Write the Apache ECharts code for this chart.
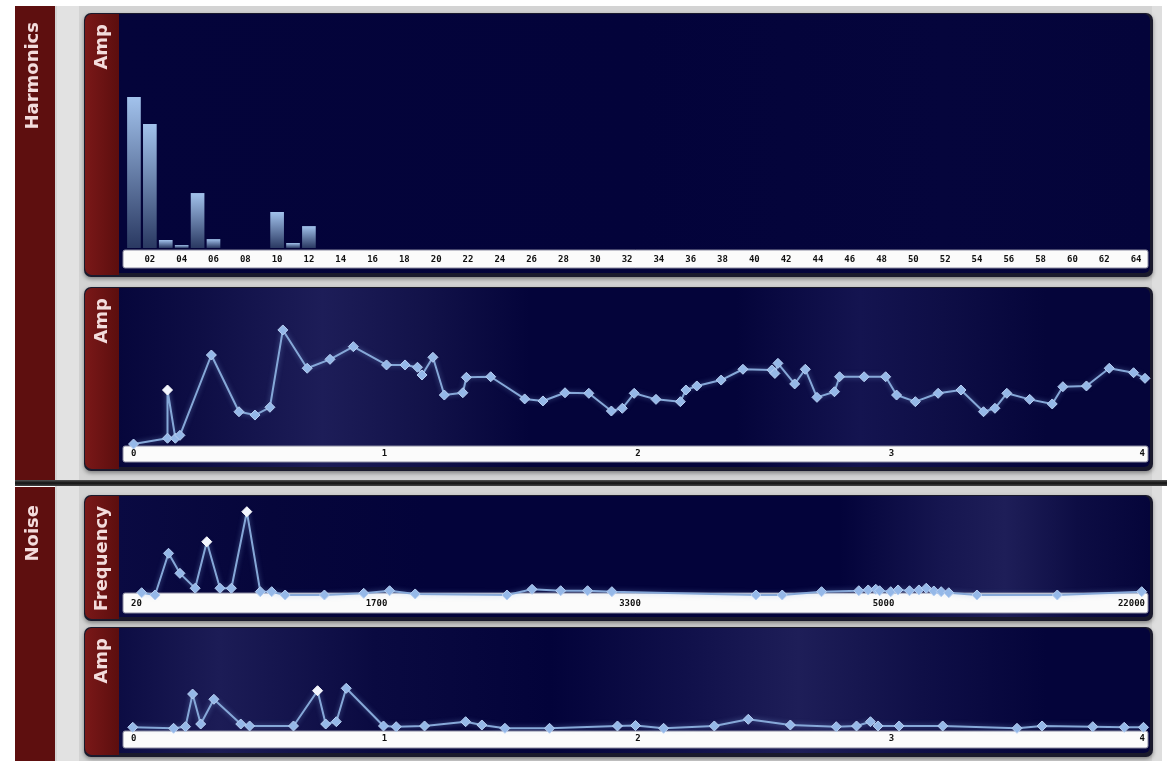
<!DOCTYPE html>
<html lang="en">
<head>
<meta charset="UTF-8">
<title>Harmonics / Noise</title>
<script src="https://cdn.jsdelivr.net/npm/echarts@6.0.0/dist/echarts.min.js"></script>
<style>
    html, body { margin: 0; padding: 0; background: #ffffff; }
    #main { width: 1167px; height: 761px; }
</style>
</head>
<body>
<div id="main"></div>
<script>
// harmonic number -> amplitude (0..100)
var harmonicLabels = ['01','02','03','04','05','06','07','08','09','10','11','12','13','14','15','16',
    '17','18','19','20','21','22','23','24','25','26','27','28','29','30','31','32',
    '33','34','35','36','37','38','39','40','41','42','43','44','45','46','47','48',
    '49','50','51','52','53','54','55','56','57','58','59','60','61','62','63','64'];
var harmonicAmp = [66.2, 54.4, 3.5, 1.3, 24.1, 3.9, 0, 0, 0, 15.8, 2.2, 9.6, 0, 0, 0, 0,
    0, 0, 0, 0, 0, 0, 0, 0, 0, 0, 0, 0, 0, 0, 0, 0,
    0, 0, 0, 0, 0, 0, 0, 0, 0, 0, 0, 0, 0, 0, 0, 0,
    0, 0, 0, 0, 0, 0, 0, 0, 0, 0, 0, 0, 0, 0, 0, 0];

// harmonics amp envelope
var ampTime = [0.01, 0.144, 0.144, 0.175, 0.193, 0.317, 0.426, 0.489, 0.548, 0.599, 0.695, 0.785, 0.877,
    1.008, 1.081, 1.130, 1.148, 1.191, 1.236, 1.309, 1.323, 1.419, 1.553, 1.625, 1.712, 1.806, 1.895, 1.938, 1.985,
    2.071, 2.167, 2.189, 2.232, 2.328, 2.414, 2.528, 2.540, 2.552, 2.618, 2.660, 2.706, 2.775, 2.795, 2.892, 2.977,
    3.020, 3.094, 3.184, 3.274, 3.363, 3.408, 3.455, 3.545, 3.634, 3.676, 3.769, 3.859, 3.955, 4.0];
var ampLevel = [0, 4, 37.5, 4, 6, 61.8, 22.4, 20.1, 25.5, 79.2, 52.6, 58.8, 67.6,
    54.9, 54.9, 53.3, 47.9, 60.2, 34.0, 35.6, 46.3, 46.7, 31.3, 29.9, 35.6, 35.2, 22.9, 24.8, 35.2,
    31.0, 29.4, 37.5, 40.3, 44.4, 51.9, 51.4, 49, 56.0, 41.7, 51.9, 32.4, 36.3, 46.7, 46.7, 46.7,
    34.0, 29.4, 35.2, 37.5, 22.4, 24.8, 35.2, 31.0, 27.8, 39.8, 40.3, 52.6, 49.5, 45.6];
var ampSelected = [2];
var timeTicks = ['0', '1', '2', '3', '4'];

// noise frequency curve
var noiseBand = [0.042, 0.095, 0.148, 0.193, 0.253, 0.299, 0.351, 0.396, 0.457, 0.510, 0.555, 0.608, 0.763,
    0.918, 1.020, 1.121, 1.483, 1.582, 1.695, 1.801, 1.897, 2.465, 2.569, 2.724, 2.871, 2.908, 2.938, 2.953,
    2.997, 3.026, 3.071, 3.108, 3.137, 3.167, 3.196, 3.226, 3.337, 3.654, 3.987];
var noiseFreq = [2.4, 0, 43.9, 22.8, 7.1, 56.1, 7.1, 7.1, 87.7, 3.5, 3.5, 0, 0,
    1.8, 4.5, 1.1, 0, 6.0, 4.5, 4.5, 3.5, 0, 0, 3.5, 4.5, 5.3, 6.0, 4.5,
    3.5, 5.3, 4.5, 5.3, 7.1, 4.2, 3.5, 2.4, 0, 0, 3.5];
var freqSelected = [5, 8];
var freqTicks = ['20', '1700', '3300', '5000', '22000'];

// noise amp envelope
var noiseTime = [0.007, 0.168, 0.215, 0.243, 0.275, 0.327, 0.433, 0.468, 0.641, 0.736, 0.768, 0.810, 0.849,
    0.996, 1.046, 1.158, 1.320, 1.384, 1.475, 1.651, 1.919, 1.990, 2.101, 2.301, 2.435, 2.601, 2.782, 2.862,
    2.917, 2.947, 3.030, 3.202, 3.495, 3.594, 3.794, 3.918, 3.994];
var noiseLevel = [1.9, 0.8, 2.6, 39.3, 5.6, 33.4, 5.6, 3.4, 3.4, 43.0, 5.6, 8.2, 45.7,
    3.4, 2.6, 3.4, 8.2, 4.5, 0.8, 0.8, 3.4, 3.9, 0.8, 3.4, 10.9, 4.5, 2.6, 3.4,
    8.2, 3.4, 3.4, 3.4, 0.8, 3.4, 2.6, 1.9, 1.9];
var noiseSelected = [9];

var chart = echarts.init(document.getElementById('main'));

var labelFont = '"DejaVu Sans", sans-serif';
var tickFont = '"DejaVu Sans Mono", monospace';

function hGrad(stops) {
    return new echarts.graphic.LinearGradient(0, 0, 1, 0, stops.map(function (s) {
        return { offset: s[0], color: s[1] };
    }));
}

function sideText(x, y, text) {
    return {
        type: 'text', x: x, y: y, rotation: Math.PI / 2, z: 1,
        style: {
            text: text, fill: '#f3dcdc', font: 'bold 18px ' + labelFont,
            align: 'right', verticalAlign: 'middle', textAlign: 'right', textVerticalAlign: 'middle'
        }
    };
}

// one instrument panel: dark frame, red label strip, navy plot area, white axis band
function panel(y0, y1, bandY0, bandY1, label, glow) {
    return [
        { type: 'rect', z: 0, shape: { x: 84, y: y0 - 1, width: 1069, height: y1 - y0 + 2, r: 7 },
          style: { fill: '#1a1a2c', shadowBlur: 4, shadowColor: 'rgba(0,0,0,0.4)', shadowOffsetY: 2 } },
        { type: 'rect', z: 0, shape: { x: 116, y: y0, width: 1034, height: y1 - y0 - 3, r: [0, 6, 6, 0] },
          style: { fill: hGrad(glow) } },
        { type: 'rect', z: 0, shape: { x: 85, y: y0, width: 34, height: y1 - y0 - 1, r: [7, 0, 0, 7] },
          style: { fill: hGrad([[0, '#7a1818'], [1, '#5c0e0e']]) } },
        { type: 'rect', z: 0, shape: { x: 123, y: bandY0, width: 1025, height: bandY1 - bandY0, r: 2 },
          style: { fill: '#fbfbfb', stroke: '#8a8aa0', lineWidth: 1 } },
        sideText(102, y0 + 10, label)
    ];
}

var graphics = [
    { type: 'rect', z: 0, shape: { x: 55, y: 6, width: 1107, height: 755 }, style: { fill: '#d3d3d3' } },
    { type: 'rect', z: 0, shape: { x: 57, y: 6, width: 22, height: 755 }, style: { fill: '#e2e2e2' } },
    { type: 'rect', z: 0, shape: { x: 1152, y: 6, width: 10, height: 755 }, style: { fill: '#dedede' } },
    { type: 'rect', z: 0, shape: { x: 15, y: 6, width: 40, height: 474 }, style: { fill: '#5e0f0f' } },
    { type: 'rect', z: 0, shape: { x: 15, y: 487, width: 40, height: 274 }, style: { fill: '#5e0f0f' } },
    { type: 'rect', z: 0, shape: { x: 15, y: 480, width: 1152, height: 6 },
      style: { fill: new echarts.graphic.LinearGradient(0, 0, 0, 1, [
          { offset: 0, color: '#555555' }, { offset: 0.5, color: '#111111' }, { offset: 1, color: '#444444' }]) } },
    sideText(33, 22, 'Harmonics'),
    sideText(33, 505, 'Noise')
];
graphics = graphics
    .concat(panel(14, 276, 250, 268, 'Amp',
        [[0, '#04043a'], [0.5, '#03033a'], [0.8, '#05053c'], [1, '#04043a']]))
    .concat(panel(288, 470, 446, 462, 'Amp',
        [[0, '#06063b'], [0.08, '#0e0e45'], [0.2, '#1d1d58'], [0.3, '#121249'], [0.4, '#04043a'],
         [0.6, '#04043a'], [0.72, '#141450'], [0.8, '#0e0e46'], [0.9, '#05053a'], [1, '#05053a']]))
    .concat(panel(496, 620, 593, 613, 'Frequency',
        [[0, '#0a0a42'], [0.15, '#06063b'], [0.3, '#03033a'], [0.7, '#03033a'], [0.8, '#161650'],
         [0.86, '#1e1e58'], [0.93, '#0d0d44'], [1, '#05053a']]))
    .concat(panel(628, 756, 731, 748, 'Amp',
        [[0, '#0c0c43'], [0.1, '#1c1c56'], [0.25, '#0a0a41'], [0.42, '#03033a'], [0.55, '#10104a'],
         [0.66, '#1e1e58'], [0.78, '#0f0f47'], [0.9, '#04043a'], [1, '#04043a']]));

function pts(xs, ys, selected) {
    return xs.map(function (x, i) {
        var item = { value: [x, ys[i]] };
        if (selected.indexOf(i) >= 0) {
            item.itemStyle = { color: '#f2f6ff', borderColor: '#ffffff' };
        }
        return item;
    });
}

function timeAxis(gridIndex, ticks, margin) {
    return {
        type: 'value', gridIndex: gridIndex, min: 0, max: 4, interval: 1, z: 10,
        axisLine: { show: false }, axisTick: { show: false }, splitLine: { show: false },
        axisLabel: {
            margin: margin, color: '#111111', fontFamily: tickFont, fontWeight: 'bold', fontSize: 9,
            alignMinLabel: 'left', alignMaxLabel: 'right',
            formatter: function (v) {
                var i = Math.round(v);
                // inner labels sit a little left of their tick
                return (i > 0 && i < 4) ? '{m|' + ticks[i] + '}' : ticks[i];
            },
            rich: {
                m: {
                    color: '#111111', fontFamily: tickFont, fontWeight: 'bold', fontSize: 9,
                    padding: [0, ticks[1].length > 1 ? 16 : 0, 0, 0]
                }
            }
        }
    };
}

function valAxis(gridIndex) {
    return { type: 'value', gridIndex: gridIndex, min: 0, max: 100, show: false };
}

function envelope(idx, data) {
    return {
        type: 'line', xAxisIndex: idx, yAxisIndex: idx, data: data,
        symbol: 'diamond', symbolSize: 10, clip: false,
        lineStyle: { color: '#86a8d8', width: 2, shadowBlur: 5, shadowColor: 'rgba(140,180,235,0.5)' },
        itemStyle: { color: '#95b8e8', borderColor: '#b8d0f2', borderWidth: 1 }
    };
}

chart.setOption({
    animation: false,
    graphic: graphics,
    grid: [
        { left: 126, right: 23, top: 20, bottom: 513 },
        { left: 131, right: 22, top: 300, bottom: 317 },
        { left: 131, right: 22, top: 500, bottom: 166 },
        { left: 131, right: 22, top: 640, bottom: 32 }
    ],
    xAxis: [
        {
            type: 'category', gridIndex: 0, data: harmonicLabels, z: 10,
            axisLine: { show: false }, axisTick: { show: false },
            axisLabel: {
                margin: 7, color: '#111111', fontFamily: tickFont, fontWeight: 'bold', fontSize: 9,
                interval: function (index) { return index % 2 === 1; }
            }
        },
        timeAxis(1, timeTicks, 5),
        timeAxis(2, freqTicks, 4),
        timeAxis(3, timeTicks, 5)
    ],
    yAxis: [valAxis(0), valAxis(1), valAxis(2), valAxis(3)],
    series: [
        {
            type: 'bar', xAxisIndex: 0, yAxisIndex: 0, data: harmonicAmp, barWidth: '86%',
            itemStyle: {
                color: new echarts.graphic.LinearGradient(0, 0, 0, 1, [
                    { offset: 0, color: '#a2c2ec' }, { offset: 1, color: '#2a3962' }])
            }
        },
        envelope(1, pts(ampTime, ampLevel, ampSelected)),
        envelope(2, pts(noiseBand, noiseFreq, freqSelected)),
        envelope(3, pts(noiseTime, noiseLevel, noiseSelected))
    ]
});
</script>
</body>
</html>
